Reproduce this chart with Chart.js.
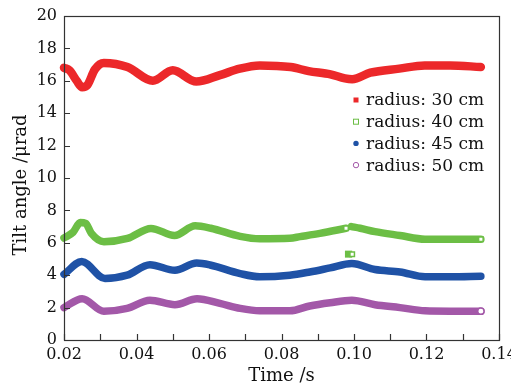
<!DOCTYPE html>
<html>
<head>
<meta charset="utf-8">
<script src="https://cdn.jsdelivr.net/npm/chart.js@4/dist/chart.umd.min.js"></script>
<style>
html,body{margin:0;padding:0;background:#fff;}
#wrap{width:511px;height:387px;position:relative;}
</style>
</head>
<body>
<div id="wrap"><canvas id="c"></canvas></div>
<script>
// ---- data ----
const seriesLabels = ["radius: 30 cm", "radius: 40 cm", "radius: 45 cm", "radius: 50 cm"];

const t30 = [0.02, 0.0215, 0.0235, 0.025, 0.0265, 0.0285, 0.031, 0.0375, 0.0445, 0.050, 0.0565, 0.063, 0.0685, 0.074, 0.0825, 0.0875, 0.0935, 0.0975, 0.0995, 0.1045, 0.1125, 0.1195, 0.1265, 0.135];
const v30 = [16.8, 16.65, 16.0, 15.6, 15.75, 16.7, 17.1, 16.85, 16.0, 16.65, 15.95, 16.35, 16.75, 16.95, 16.85, 16.6, 16.4, 16.15, 16.1, 16.5, 16.75, 16.95, 16.95, 16.85];

const t40 = [0.02, 0.0225, 0.0245, 0.026, 0.0275, 0.031, 0.0375, 0.044, 0.0505, 0.0562, 0.0605, 0.0686, 0.074, 0.0823, 0.0851, 0.0906, 0.0978, 0.0985, 0.0993, 0.1017, 0.1058, 0.1127, 0.1196, 0.1265, 0.135];
const v40 = [6.3, 6.65, 7.25, 7.2, 6.6, 6.07, 6.27, 6.89, 6.45, 7.05, 6.9, 6.4, 6.25, 6.28, 6.38, 6.58, 6.9, null, 7.0, 6.9, 6.69, 6.45, 6.22, 6.22, 6.22];

const t40b = [0.0975, 0.0995];
const v40b = [5.3, 5.3];

const t45 = [0.02, 0.0249, 0.0313, 0.0374, 0.0437, 0.0506, 0.0566, 0.0603, 0.0686, 0.074, 0.0823, 0.0878, 0.0934, 0.0994, 0.1058, 0.1127, 0.1196, 0.1265, 0.135];
const v45 = [4.05, 4.85, 3.8, 4.0, 4.65, 4.3, 4.75, 4.63, 4.1, 3.9, 4.0, 4.2, 4.45, 4.72, 4.35, 4.2, 3.9, 3.9, 3.93];

const t50 = [0.02, 0.025, 0.031, 0.0374, 0.0437, 0.0506, 0.0567, 0.063, 0.0686, 0.074, 0.0823, 0.0878, 0.0934, 0.0994, 0.1058, 0.1127, 0.1196, 0.1265, 0.135];
const v50 = [2.0, 2.55, 1.77, 1.95, 2.45, 2.18, 2.55, 2.26, 1.95, 1.8, 1.8, 2.1, 2.3, 2.45, 2.18, 2.0, 1.8, 1.78, 1.78];

const xMinorTicks = [0.02, 0.03, 0.04, 0.05, 0.06, 0.07, 0.08, 0.09, 0.10, 0.11, 0.12, 0.13, 0.14];
const yTickValues = [0, 2, 4, 6, 8, 10, 12, 14, 16, 18, 20];

const xTitle = "Time /s";
const yTitle = "Tilt angle /μrad";

// ---- styles ----
const RED = "rgb(236,40,42)";
const GREEN = "rgb(108,190,69)";
const BLUE = "rgb(31,82,166)";
const PURPLE = "rgb(163,88,168)";
const FONT = "'DejaVu Serif', serif";

const pts = (ts, vs) => ts.map((t, i) => ({x: t, y: vs[i]}));

function markerRadius(indices, r) {
  return ctx => indices.includes(ctx.dataIndex) ? r : 0;
}

const lineBase = {
  borderWidth: 7.5,
  cubicInterpolationMode: 'monotone',
  borderCapStyle: 'round',
  borderJoinStyle: 'round',
  pointHoverRadius: 0,
  spanGaps: false,
  clip: false
};

const datasets = [
  Object.assign({}, lineBase, {label: seriesLabels[0], data: pts(t30, v30), borderColor: RED, backgroundColor: RED, pointRadius: 0, borderWidth: 8.5}),
  Object.assign({}, lineBase, {label: seriesLabels[1], data: pts(t40, v40), borderColor: GREEN, backgroundColor: '#fff',
    pointStyle: 'rect', pointRadius: markerRadius([16, t40.length - 1], 3.2), pointBorderWidth: 1.5, pointBackgroundColor: '#fff', pointBorderColor: GREEN}),
  Object.assign({}, lineBase, {label: '', data: pts(t40b, v40b), borderColor: GREEN, borderCapStyle: 'butt', borderWidth: 7,
    pointStyle: 'rect', pointRadius: markerRadius([1], 3.2), pointBorderWidth: 1.5, pointBackgroundColor: '#fff', pointBorderColor: GREEN}),
  Object.assign({}, lineBase, {label: seriesLabels[2], data: pts(t45, v45), borderColor: BLUE, backgroundColor: BLUE, pointRadius: 0}),
  Object.assign({}, lineBase, {label: seriesLabels[3], data: pts(t50, v50), borderColor: PURPLE, backgroundColor: '#fff',
    pointStyle: 'circle', pointRadius: markerRadius([t50.length - 1], 3.2), pointBorderWidth: 1.5, pointBackgroundColor: '#fff', pointBorderColor: PURPLE})
];

const legendMarks = [
  {style: 'rect', fill: RED, stroke: RED},
  {style: 'rect', fill: '#fff', stroke: GREEN},
  {style: 'circle', fill: BLUE, stroke: BLUE},
  {style: 'circle', fill: '#fff', stroke: PURPLE}
];

const framePlugin = {
  id: 'frame',
  afterDraw(chart) {
    const ctx = chart.ctx;
    const a = chart.chartArea;
    const xs = chart.scales.x, ys = chart.scales.y;
    ctx.save();
    ctx.strokeStyle = '#333';
    ctx.lineWidth = 1.2;
    ctx.strokeRect(Math.round(a.left) + 0.5, Math.round(a.top) + 0.5, Math.round(a.right - a.left), Math.round(a.bottom - a.top));
    ctx.beginPath();
    xMinorTicks.forEach(v => {
      const px = Math.round(xs.getPixelForValue(v)) + 0.5;
      ctx.moveTo(px, a.bottom); ctx.lineTo(px, a.bottom - 6);
    });
    yTickValues.forEach(v => {
      const py = Math.round(ys.getPixelForValue(v)) + 0.5;
      ctx.moveTo(a.left, py); ctx.lineTo(a.left + 6, py);
    });
    ctx.stroke();
    // y axis title
    ctx.save();
    ctx.translate(21, (a.top + a.bottom) / 2 + 7);
    ctx.rotate(-Math.PI / 2);
    ctx.font = "18px " + FONT;
    ctx.fillStyle = '#111';
    ctx.textAlign = 'center';
    ctx.textBaseline = 'middle';
    ctx.fillText(yTitle, 0, 0);
    ctx.restore();
    // legend
    const lx = a.right - 143, ly0 = a.top + 84, dy = 21.7;
    ctx.font = "17px " + FONT;
    ctx.textBaseline = 'middle';
    ctx.textAlign = 'left';
    [0, 1, 3, 4].forEach((di, i) => {
      const y = ly0 + i * dy;
      const m = legendMarks[i];
      ctx.fillStyle = m.fill; ctx.strokeStyle = m.stroke; ctx.lineWidth = 1;
      if (m.style === 'rect') {
        ctx.fillRect(lx - 2.5, y - 2.5, 5, 5);
        if (m.fill === '#fff') ctx.strokeRect(lx - 2.5, y - 2.5, 5, 5);
      } else {
        ctx.beginPath(); ctx.arc(lx, y, 2.7, 0, Math.PI * 2); ctx.fill();
        if (m.fill === '#fff') ctx.stroke();
      }
      ctx.fillStyle = '#111';
      ctx.fillText(chart.data.datasets[di].label, lx + 10, y + 1);
    });
    ctx.restore();
  }
};

new Chart(document.getElementById('c'), {
  type: 'line',
  data: {datasets},
  options: {
    responsive: true,
    maintainAspectRatio: false,
    animation: false,
    events: [],
    layout: {padding: {left: 0, top: 16, right: 12, bottom: 0}},
    plugins: {legend: {display: false}, tooltip: {enabled: false}},
    scales: {
      x: {
        type: 'linear', min: 0.02, max: 0.14,
        grid: {display: false, drawTicks: false},
        border: {display: false},
        ticks: {stepSize: 0.02, color: '#111', font: {family: FONT, size: 16}, padding: 5, maxRotation: 0,
          callback: v => v.toFixed(2)},
        title: {display: true, text: xTitle, color: '#111', font: {family: FONT, size: 18}, padding: {top: 0, bottom: 0}},
        afterFit(s) { s.height = 47; s.paddingLeft = 0; s.paddingRight = 0; }
      },
      y: {
        min: 0, max: 20,
        grid: {display: false, drawTicks: false},
        border: {display: false},
        ticks: {stepSize: 2, color: '#111', font: {family: FONT, size: 16}, padding: 7},
        title: {display: false},
        afterFit(s) { s.width = 64; s.paddingTop = 0; s.paddingBottom = 0; }
      }
    }
  },
  plugins: [framePlugin]
});
</script>
</body>
</html>
